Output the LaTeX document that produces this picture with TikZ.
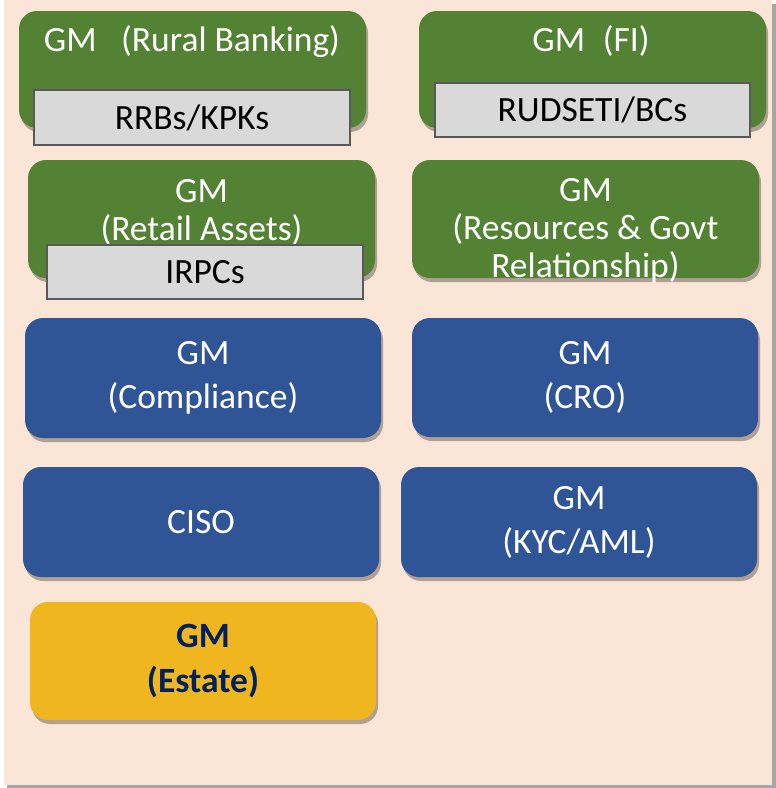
\documentclass[tikz,border=0pt]{standalone}
\usepackage{fontspec}
\setmainfont{Carlito}
\usetikzlibrary{shadows}

\definecolor{peach}{HTML}{FBE5D6}
\definecolor{gmgreen}{HTML}{548235}
\definecolor{gmblue}{HTML}{2F5597}
\definecolor{subgray}{HTML}{D9D9D9}
\definecolor{subline}{HTML}{595959}
\definecolor{gmgold}{HTML}{EFB61F}
\definecolor{navy}{HTML}{002060}

\begin{document}
\begin{tikzpicture}[x=1pt, y=-1pt, font=\fontsize{35.5}{38}\selectfont,
		gmbox/.style={rounded corners=18pt, inner sep=0pt, align=center, text=white,
			drop shadow={shadow xshift=2pt, shadow yshift=-4pt, opacity=0.3, fill=black}},
		greenbox/.style={gmbox, fill=gmgreen},
		bluebox/.style={gmbox, fill=gmblue, font=\fontsize{35.5}{44}\selectfont},
		goldbox/.style={gmbox, fill=gmgold, text=navy, font=\fontsize{35.5}{45}\selectfont\bfseries},
		subbox/.style={fill=subgray, draw=subline, line width=1.5pt, inner sep=0pt, text=black},
		wtext/.style={text=white, align=center, inner sep=0pt}]
		\useasboundingbox (0,0) rectangle (776,788);
		\fill[black!35] (7,4) rectangle (776,788);
		\fill[peach] (4,0) rectangle (772,785);

		% green row 1
		\node[greenbox, minimum width=347pt, minimum height=117pt] (rb) at (192.5,69.5) {};
		\node[wtext] (rbt) at (192,42) {GM\hspace{0.69em}(Rural Banking)};
		\node[subbox, minimum width=316pt, minimum height=55pt] (rrb) at (192,117.5) {RRBs/KPKs};
		\node[greenbox, minimum width=347pt, minimum height=117pt] (fi) at (592.5,69.5) {};
		\node[wtext] (fit) at (591,41) {GM\hspace{0.5em}(FI)};
		\node[subbox, minimum width=315pt, minimum height=54pt] (rud) at (592.5,110) {RUDSETI/BCs};

		% green row 2
		\node[greenbox, minimum width=347pt, minimum height=118pt] (ra) at (201.5,219) {};
		\node[wtext] (rat) at (201.5,212) {GM\\(Retail Assets)};
		\node[subbox, minimum width=316pt, minimum height=54pt] (irpc) at (205,272) {IRPCs};
		\node[greenbox, minimum width=347pt, minimum height=118pt] (rgr) at (585.5,219) {};
		\node[wtext] (rgrt) at (585.5,231) {GM\\(Resources \& Govt\\Relationship)};

		% blue boxes
		\node[bluebox, minimum width=356pt, minimum height=120pt] (comp) at (203,378) {GM\\(Compliance)};
		\node[bluebox, minimum width=346pt, minimum height=119pt] (cro) at (585,377.5) {GM\\(CRO)};
		\node[bluebox, minimum width=356pt, minimum height=110pt] (ciso) at (201,522) {CISO};
		\node[bluebox, minimum width=356pt, minimum height=110pt] (kyc) at (579,522) {GM\\(KYC/AML)};

		\node[goldbox, minimum width=346pt, minimum height=118pt] (est) at (203,661) {GM\\(Estate)};
	\end{tikzpicture}
\end{document}
